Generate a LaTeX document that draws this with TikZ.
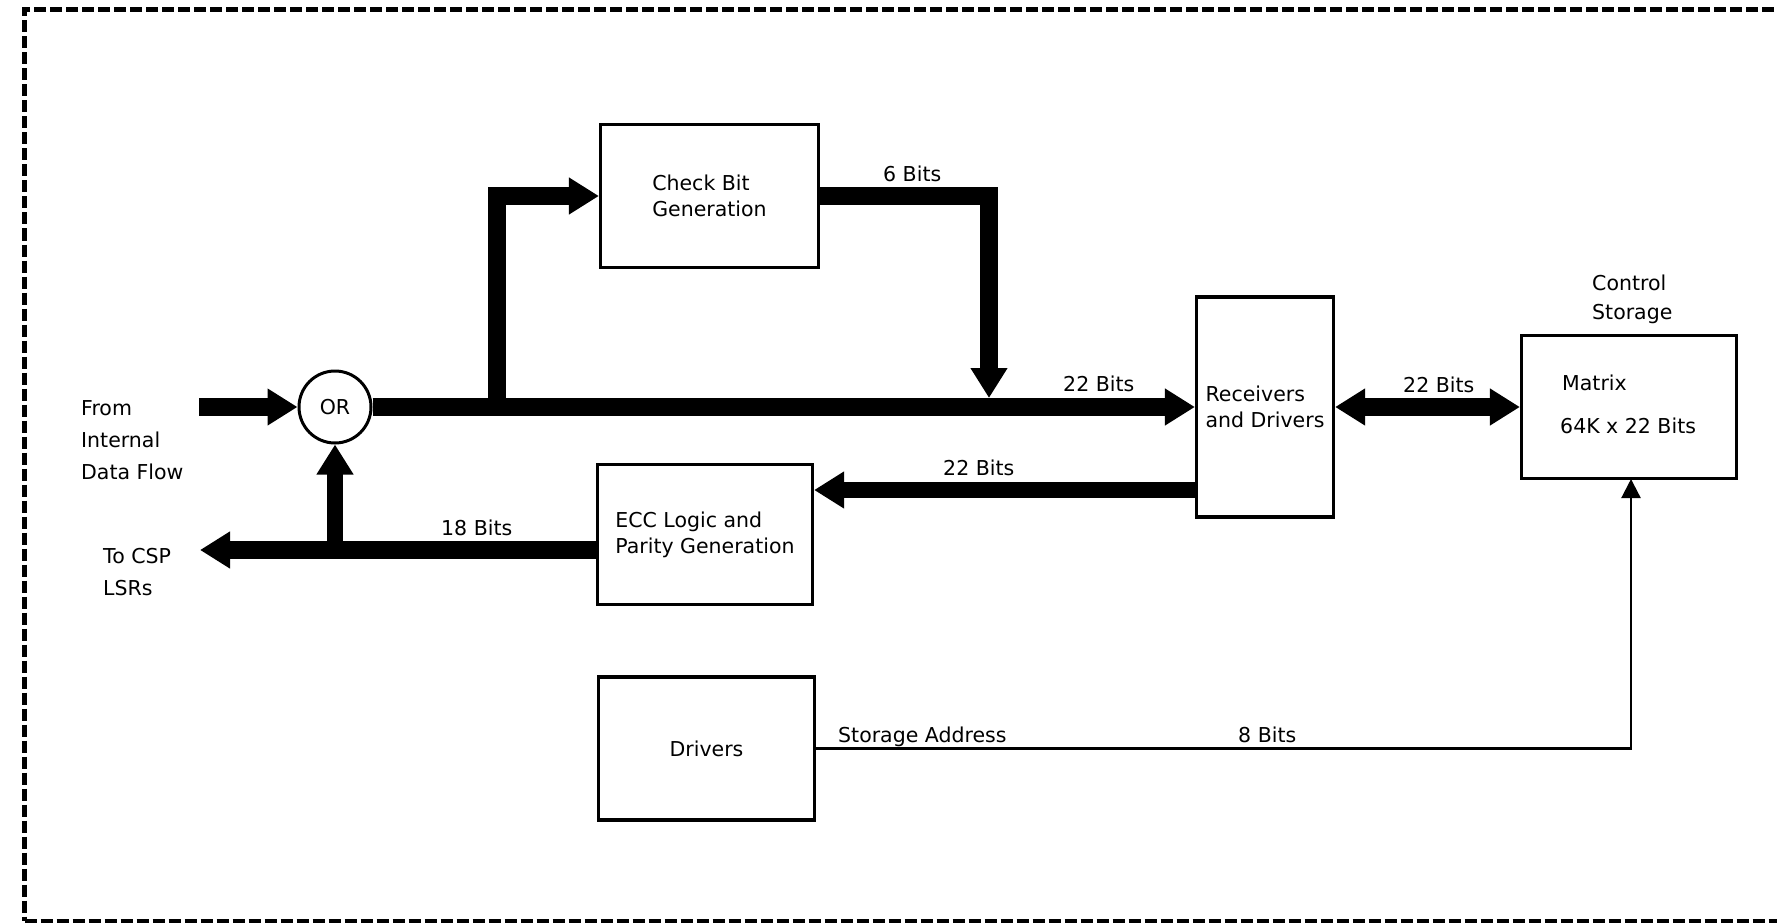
\documentclass[tikz,border=0pt]{standalone}
\usepackage{fontspec}
\setmainfont{DejaVu Sans}
\usetikzlibrary{arrows.meta}
\begin{document}
\begin{tikzpicture}[x=1pt,y=-1pt,
  every node/.style={font=\fontsize{20.5pt}{26pt}\selectfont},
  blk/.style={draw,line width=3.2pt,align=left,inner sep=0pt},
  bus/.style={line width=18pt,line join=miter,line cap=butt},
  busthin/.style={line width=16pt,line join=miter,line cap=butt},
  addr/.style={line width=2.2pt,line join=miter},
  lbl/.style={anchor=base west,inner sep=0pt},
  bigtri/.tip={Triangle[width=35pt,length=30pt]},
  smalltri/.tip={Triangle[width=19pt,length=19pt]}]
\useasboundingbox (0,0) rectangle (1777,923);
% dashed frame
\draw[line width=5pt,dash pattern=on 12pt off 4pt] (1790,10) -- (24.5,10) -- (24.5,921);
\draw[line width=4pt,dash pattern=on 12pt off 4pt] (24.5,921) -- (1790,921);
% blocks
\node[blk,minimum width=218pt,minimum height=143pt] (cb) at (709.5,196) {Check Bit\\Generation};
\node[blk,minimum width=137pt,minimum height=220pt] (rec) at (1265,407) {Receivers\\and Drivers};
\node[blk,minimum width=215pt,minimum height=143pt] (mx) at (1629,407) {};
\node[blk,minimum width=215pt,minimum height=140pt] (ecc) at (705,534.5) {ECC Logic and\\Parity Generation};
\node[blk,minimum width=216pt,minimum height=143pt] (drv) at (706.5,748.5) {Drivers};
\node[draw,circle,line width=3pt,minimum size=72pt,inner sep=0pt] (or) at (335,407) {OR};
% labels
\node[lbl] (l1) at (81,415) {From};
\node[lbl] (l2) at (81,447) {Internal};
\node[lbl] (l3) at (81,479) {Data Flow};
\node[lbl] (l4) at (103,563) {To CSP};
\node[lbl] (l5) at (103,595) {LSRs};
\node[lbl] (l6) at (1592,290) {Control};
\node[lbl] (l7) at (1592,319) {Storage};
\node[lbl] (l8) at (1562,390) {Matrix};
\node[lbl] (l9) at (1560,433) {64K x 22 Bits};
\node[lbl] (b6) at (883,181) {6 Bits};
\node[lbl] (b22a) at (1063,391) {22 Bits};
\node[lbl] (b22b) at (1403,392) {22 Bits};
\node[lbl] (b22c) at (943,475) {22 Bits};
\node[lbl] (b18) at (441,535) {18 Bits};
\node[lbl] (sa) at (838,742) {Storage Address};
\node[lbl] (b8) at (1238,742) {8 Bits};
% connectors
\coordinate (inS) at (199,407);
\coordinate (br) at (497,407);
\coordinate (j6) at (989,398);
\coordinate (csp) at (200,550);
\coordinate (up) at (335,550);
\coordinate (mxa) at (1631,479);
\draw[bus,-bigtri] (inS) -- (or.west);
\draw[bus,-bigtri] (or.east) -- (rec.west);
\draw[bus,-bigtri] (br) -- (br |- cb.west) -- (cb.west);
\draw[bus,-bigtri] (cb.east) -- (cb.east -| j6) -- (j6);
\draw[bus,bigtri-bigtri] (rec.east) -- (mx.west);
\draw[busthin,-bigtri] (rec.west |- 0,490) -- (ecc.east |- 0,490);
\draw[bus,-bigtri] (ecc.west |- csp) -- (csp);
\draw[busthin,-bigtri] (up) -- (or.south);
\draw[addr,-smalltri] (drv.east) -- (drv.east -| mxa) -- (mxa);
\end{tikzpicture}
\end{document}
